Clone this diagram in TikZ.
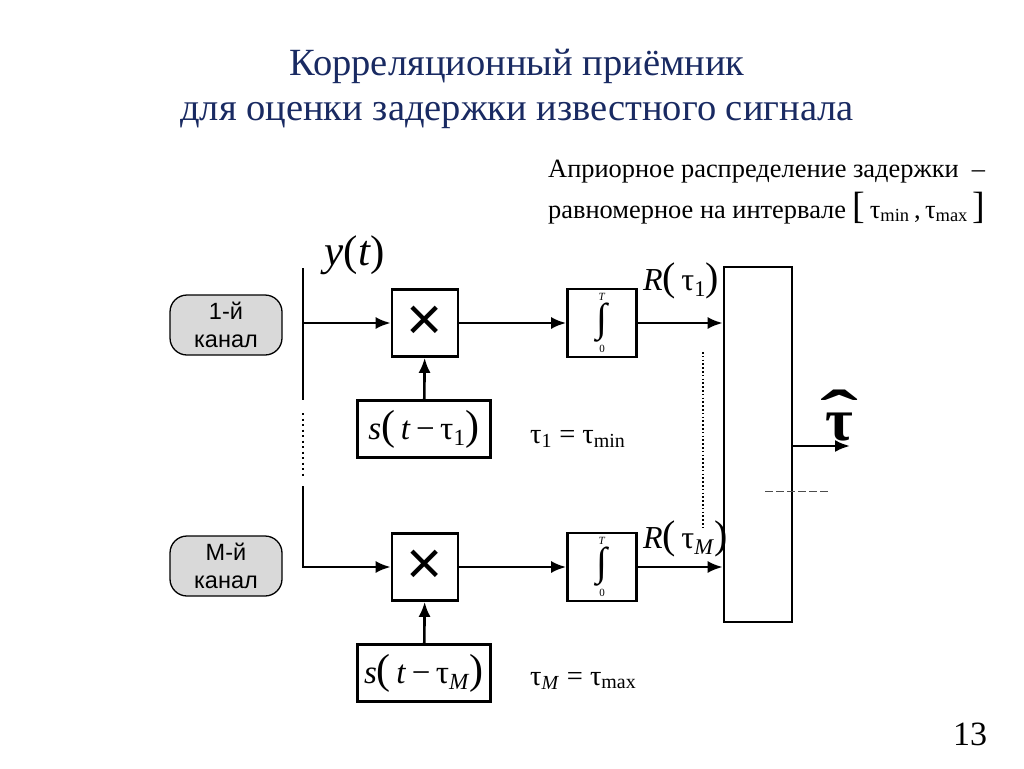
\documentclass[tikz,border=0pt]{standalone}
\usepackage{fontspec}
\usepackage{graphicx}
\setmainfont{Liberation Serif}
\setsansfont{Liberation Sans}
\usetikzlibrary{arrows.meta}
\definecolor{titleblue}{RGB}{25,42,98}
\newcommand{\fs}[2]{\fontsize{#1}{#2}\selectfont}
\newcommand{\bigpar}[2]{{\fs{#1}{#1}#2}}
\newcommand{\intbox}{\vbox{\offinterlineskip\halign{\hfil##\hfil\cr
  \fs{11}{11}\textit{T}\cr\noalign{\kern2pt}
  \fs{40}{40}∫\cr\noalign{\kern3pt}
  \fs{11}{11}0\cr}}}

\begin{document}
\begin{tikzpicture}
  [x=1pt,y=-1pt,every node/.style={inner sep=0pt},
   blk/.style={draw,line width=2.6pt,minimum width=66pt,minimum height=67pt},
   sigbox/.style={draw,line width=2.6pt,minimum width=133pt,minimum height=57pt,font=\fs{33}{33}},
   chan/.style={draw,line width=1.3pt,fill=black!15,rounded corners=17pt,minimum width=112pt,
     minimum height=60pt,align=center,font=\sffamily\fs{23.5}{28}},
   wire/.style={line width=2.6pt,-{Latex[length=15pt,width=12pt]}},
   bus/.style={line width=2.6pt},
   dots/.style={line width=2.6pt,dash pattern=on 2pt off 3.5pt}]
  \useasboundingbox (0,0) rectangle (1024,768);

  \node[anchor=base,text=titleblue,font=\fs{38.5}{38.5}] (t1) at (517,75) {Корреляционный приёмник};
  \node[anchor=base,text=titleblue,font=\fs{38.5}{38.5}] (t2) at (517,120) {для оценки задержки известного сигнала};
  \node[anchor=base west,font=\fs{26.4}{26.4}] (p1) at (548,177) {Априорное распределение задержки \ –};
  \node[anchor=base west,font=\fs{26.4}{26.4}] (p2) at (548,218)
    {равномерное на интервале \bigpar{38}{[}\,τ\textsubscript{min}\,,\,τ\textsubscript{max}\,\bigpar{38}{]}};

  \node[chan] (ch1) at (226,325) {1-й\\канал};
  \node[chan] (chM) at (226,566) {М-й\\канал};

  \node[blk,font=\sffamily\fs{62}{62}] (mul1) at (425,323) {×};
  \node[blk,font=\sffamily\fs{62}{62}] (mulM) at (425,567) {×};
  \node[sigbox] (sig1) at (424,429)
    {\textit{s}\bigpar{42}{(}\,\textit{t}\,−\,τ\textsubscript{1}\bigpar{42}{)}};
  \node[sigbox] (sigM) at (424,673)
    {\textit{s}\bigpar{42}{(}\,\textit{t}\,−\,τ\textsubscript{\textit{M}}\bigpar{42}{)}};
  \node[blk,minimum width=69pt,minimum height=68pt] (int1) at (602,323) {\intbox};
  \node[blk,minimum width=69pt,minimum height=68pt] (intM) at (602,567) {\intbox};
  \node[draw,line width=2.6pt,minimum width=68pt,minimum height=355pt] (dec) at (758,444.5) {};

  \coordinate (bustop) at (303,268);
  \coordinate (bus1) at (303,323);
  \coordinate (busend) at (303,400);
  \coordinate (dotA) at (303,413);
  \coordinate (dotB) at (303,478);
  \coordinate (busM) at (303,486);
  \coordinate (dotC) at (703,352);
  \coordinate (dotD) at (703,530);
  \coordinate (est) at (850,446);

  \draw[bus] (bustop) -- (busend);
  \draw[dots] (dotA) -- (dotB);
  \draw[wire] (bus1) -- (mul1);
  \draw[wire] (busM) |- (mulM);
  \draw[wire] (sig1) -- (mul1);
  \draw[wire] (sigM) -- (mulM);
  \draw[wire] (mul1) -- (int1);
  \draw[wire] (mulM) -- (intM);
  \draw[wire] (int1) -- (int1 -| dec.west);
  \draw[wire] (intM) -- (intM -| dec.west);
  \draw[wire] (dec.east |- est) -- (est);
  \draw[dots,line width=2.2pt,dash pattern=on 1.6pt off 2.2pt] (dotC) -- (dotD);
  \draw[black!70,line width=0.8pt,dash pattern=on 8pt off 3pt] (765,491) -- (830,491);

  \node[font=\fs{43}{43}] (yt) at (355,255) {\textit{y}(\textit{t})};
  \node[font=\fs{32}{32},anchor=base west] (r1) at (643,290)
    {\textit{R}\bigpar{40}{(}\,τ\textsubscript{1}\bigpar{40}{)}};
  \node[font=\fs{32}{32},anchor=base west] (rM) at (643,548)
    {\textit{R}\bigpar{40}{(}\,τ\textsubscript{\textit{M}}\bigpar{40}{)}};
  \node[font=\fs{28.5}{28.5},anchor=base west] (e1) at (530,443) {τ\textsubscript{1} = τ\textsubscript{min}};
  \node[font=\fs{28.5}{28.5},anchor=base west] (eM) at (530,685) {τ\textsubscript{\textit{M}} = τ\textsubscript{max}};
  \node[font=\bfseries\fs{60}{60},anchor=base] (hat) at (839,440)
    {\ooalign{τ\cr\hidewidth\raisebox{0.06em}{\scalebox{1.9}[1.1]{ˆ}}\hidewidth\cr}};
  \node[font=\fs{34}{34},anchor=base] (pg) at (970,745) {13};
\end{tikzpicture}
\end{document}
